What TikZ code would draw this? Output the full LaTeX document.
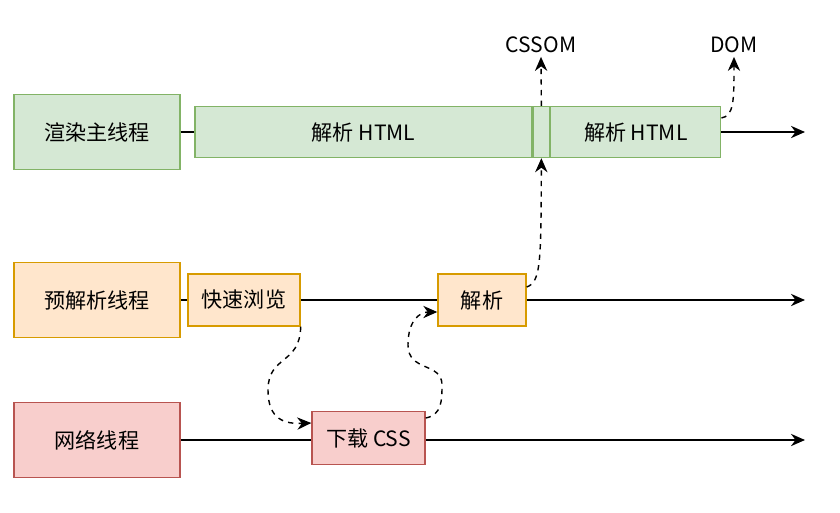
\documentclass[tikz,border=0pt]{standalone}
\usepackage{fontspec}
\setmainfont{Noto Sans CJK SC}
\usepackage{tikz}
\usetikzlibrary{positioning,arrows.meta}

\definecolor{greenfill}{HTML}{D5E8D4}
\definecolor{greendraw}{HTML}{82B366}
\definecolor{orangefill}{HTML}{FFE6CC}
\definecolor{orangedraw}{HTML}{D79B00}
\definecolor{redfill}{HTML}{F8CECC}
\definecolor{reddraw}{HTML}{B85450}

\begin{document}
\begin{tikzpicture}[
    x=0.02cm, y=-0.02cm,
    font=\fontsize{12}{14}\selectfont,
    box/.style={rectangle, draw, line width=0.8pt, inner sep=0pt, minimum height=1.04cm},
    thread/.style={box, minimum width=3.32cm, minimum height=1.5cm},
    greenbox/.style={fill=greenfill, draw=greendraw},
    orangebox/.style={fill=orangefill, draw=orangedraw},
    redbox/.style={fill=redfill, draw=reddraw},
    label/.style={inner sep=2pt},
    line/.style={line width=0.9pt},
    arrow/.style={line, -{Stealth[length=8pt,width=7pt]}},
    dasharrow/.style={line width=0.8pt, dashed, -{Stealth[length=8pt,width=7pt]}}
]
\useasboundingbox (0,0) rectangle (840,512);

% 渲染主线程
\node[thread, greenbox] (render) at (97,132) {渲染主线程};
\node[box, greenbox, minimum width=6.74cm, minimum height=1.02cm] (html1) at (363.5,132) {解析 HTML};
\node[box, greenbox, minimum width=0.32cm, minimum height=1.02cm, right=0pt of html1] (gap) {};
\node[box, greenbox, minimum width=3.4cm, minimum height=1.02cm, right=0pt of gap] (html2) {解析 HTML};
\node[label] (cssom) at (541,45) {CSSOM};
\node[label] (dom) at (734,45) {DOM};
\coordinate (renderend) at (805,132);

% 预解析线程
\node[thread, orangebox] (preparse) at (97,300) {预解析线程};
\node[box, orangebox, minimum width=2.24cm] (scan) at (244,300) {快速浏览};
\node[box, orangebox, minimum width=1.76cm] (parse) at (482,300) {解析};
\coordinate (preparseend) at (805,300);

% 网络线程
\node[thread, redbox] (network) at (97,440) {网络线程};
\node[box, redbox, minimum width=2.26cm, minimum height=1.06cm] (download) at (368.5,438) {下载 CSS};
\coordinate (networkend) at (805,440);

% 时间线
\draw[line] (render) -- (html1);
\draw[arrow] (html2) -- (renderend);
\draw[line] (preparse) -- (scan);
\draw[line] (scan) -- (parse);
\draw[arrow] (parse) -- (preparseend);
\draw[line] (network.east) -- (network.east -| download.west);
\draw[arrow] (network.east -| download.east) -- (networkend);

% 虚线
\draw[dasharrow] (gap.north) -- (cssom.south);
\draw[dasharrow] ([yshift=0.28cm]html2.east) .. controls (734,116) and (734,100) .. (dom.south);
\draw[dasharrow] ([yshift=0.26cm]parse.east) .. controls (541,282) and (541,262) .. (gap.south);
\draw[dasharrow] (scan.south east) .. controls (300,365) and (268,355) .. (268,390)
    .. controls (268,420) and (285,424) .. ([yshift=0.3cm]download.west);
\draw[dasharrow] ([yshift=0.4cm]download.east) .. controls (442,415) and (442,400) .. (442,385)
    .. controls (442,362) and (408,372) .. (408,345)
    .. controls (408,320) and (420,312) .. ([yshift=-0.24cm]parse.west);

\end{tikzpicture}
\end{document}
